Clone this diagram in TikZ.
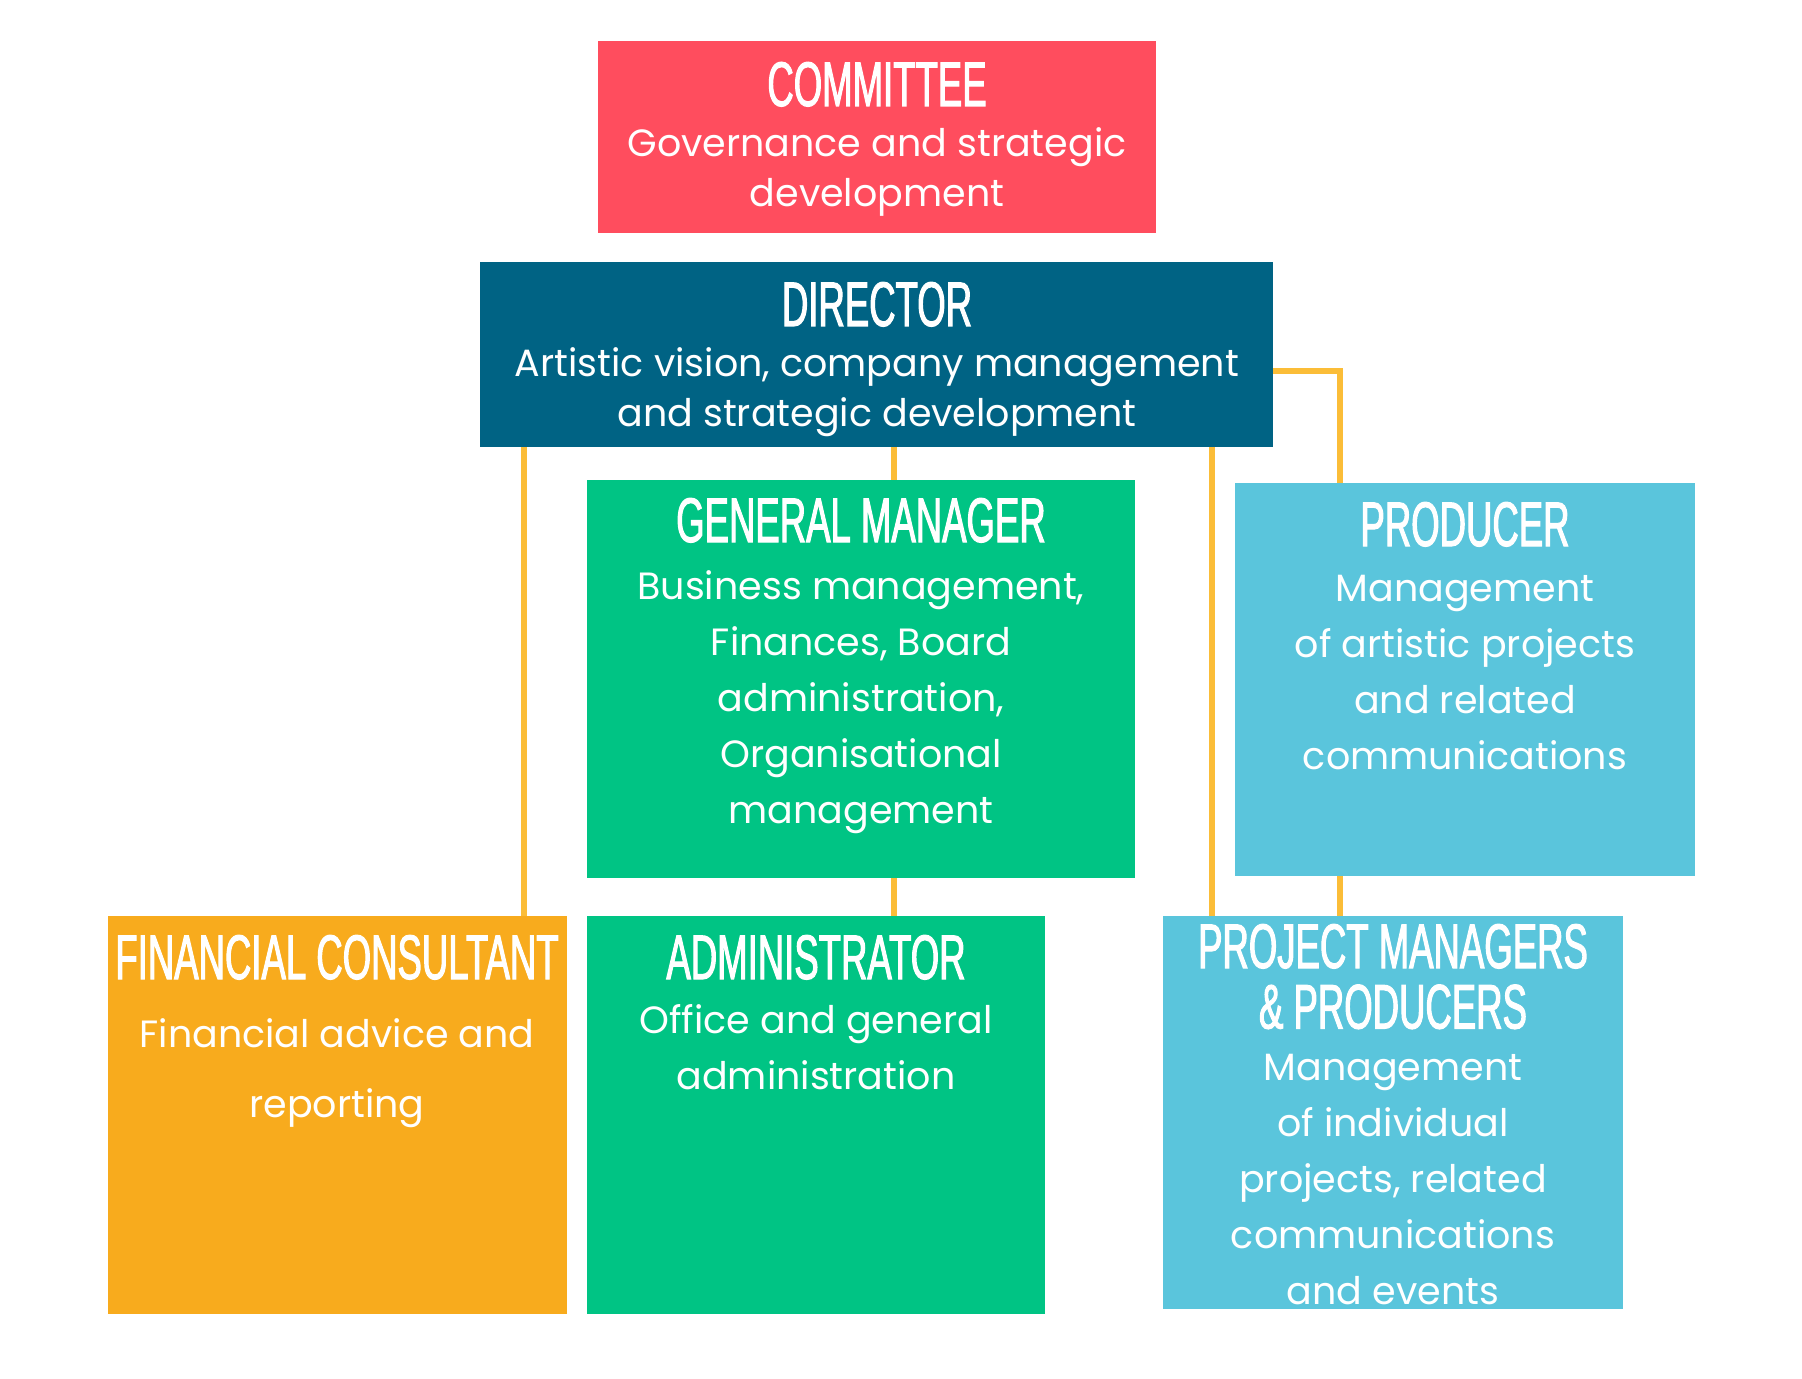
\documentclass[tikz,border=0pt]{standalone}
\usepackage{fontspec}
\setmainfont{Poppins}
\newfontfamily\tfont[FakeStretch=0.58,FakeBold=1.6]{Liberation Sans}
\definecolor{cRed}{HTML}{FF4D5E}
\definecolor{cDir}{HTML}{006384}
\definecolor{cGreen}{HTML}{00C484}
\definecolor{cBlue}{HTML}{5AC5DC}
\definecolor{cOrange}{HTML}{F8AB1D}
\definecolor{cLine}{HTML}{FBBD38}
\newcommand\mlines[1]{\begin{tabular}[t]{@{}c@{}}#1\end{tabular}}
\tikzset{
  box/.style={draw=none, inner sep=0pt, rectangle},
  ttl/.style={text=white, anchor=base, inner sep=0pt, font=\tfont\fontsize{31.5}{27.5}\selectfont},
  body/.style={text=white, anchor=base, inner sep=0pt, font=\fontsize{19}{28}\selectfont},
  conn/.style={draw=cLine, line width=3pt}
}
\begin{document}
\begin{tikzpicture}[x=0.5pt,y=-0.5pt]
\useasboundingbox[fill=white] (0,0) rectangle (1802,1379);
% boxes
\node[box, fill=cRed, minimum width=279pt, minimum height=96pt] (com) at (877,137) {};
\node[box, fill=cDir, minimum width=396.5pt, minimum height=92.5pt] (dir) at (876.5,354.5) {};
\node[box, fill=cGreen, minimum width=274pt, minimum height=199pt] (gm) at (861,679) {};
\node[box, fill=cBlue, minimum width=230pt, minimum height=196.5pt] (prod) at (1465,679.5) {};
\node[box, fill=cOrange, minimum width=229.5pt, minimum height=199pt] (fc) at (337.5,1115) {};
\node[box, fill=cGreen, minimum width=229pt, minimum height=199pt] (adm) at (816,1115) {};
\node[box, fill=cBlue, minimum width=230pt, minimum height=196.5pt] (pm) at (1393,1112.5) {};
% connector guide coordinates
\coordinate (xl) at (524,0);
\coordinate (xm) at (894,0);
\coordinate (xr) at (1212,0);
\coordinate (xp) at (1340,0);
\coordinate (yp) at (0,371);
% connectors
\draw[conn] (dir.south -| xl) -- (fc.north -| xl);
\draw[conn] (dir.south -| xm) -- (gm.north -| xm);
\draw[conn] (gm.south -| xm) -- (adm.north -| xm);
\draw[conn] (dir.south -| xr) -- (pm.north -| xr);
\draw[conn] (dir.east |- yp) -| (prod.north -| xp);
\draw[conn] (prod.south -| xp) -- (pm.north -| xp);
% texts
\node[ttl] (comT) at (877,106) {COMMITTEE};
\node[body, font=\fontsize{19}{25}\selectfont] (comB) at (877,157) {\mlines{Governance and strategic\\development}};
\node[ttl] (dirT) at (877,326) {DIRECTOR};
\node[body, font=\fontsize{19}{25}\selectfont] (dirB) at (877,377) {\mlines{Artistic vision, company management\\and strategic development}};
\node[ttl] (gmT) at (861,542) {GENERAL MANAGER};
\node[body] (gmB) at (861,599) {\mlines{Business management,\\Finances, Board\\administration,\\Organisational\\management}};
\node[ttl] (prodT) at (1465,546) {PRODUCER};
\node[body] (prodB) at (1465,601) {\mlines{Management\\of artistic projects\\and related\\communications}};
\node[ttl] (fcT) at (337,979) {FINANCIAL CONSULTANT};
\node[body, font=\fontsize{19}{35}\selectfont] (fcB) at (337,1047) {\mlines{Financial advice and\\reporting}};
\node[ttl] (admT) at (816,979) {ADMINISTRATOR};
\node[body] (admB) at (816,1033) {\mlines{Office and general\\administration}};
\node[ttl] (pmT) at (1393,968) {\mlines{PROJECT MANAGERS\\\& PRODUCERS}};
\node[body] (pmB) at (1393,1080) {\mlines{Management\\of individual\\projects, related\\communications\\and events}};
\end{tikzpicture}
\end{document}
